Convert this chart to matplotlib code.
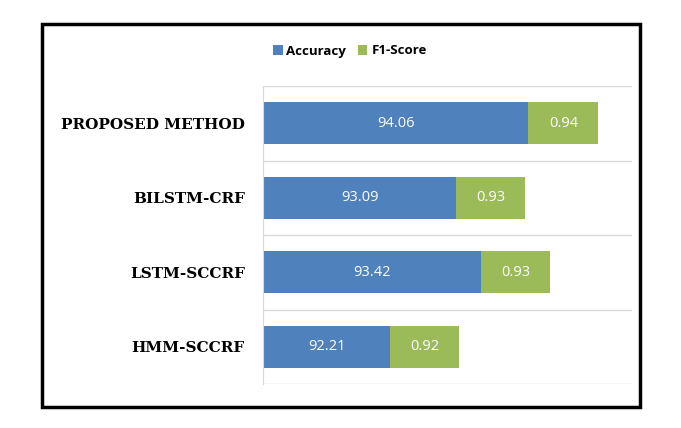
import matplotlib.pyplot as plt
from matplotlib.patches import Rectangle

methods = ["PROPOSED METHOD", "BILSTM-CRF", "LSTM-SCCRF", "HMM-SCCRF"]
accuracy = [94.06, 93.09, 93.42, 92.21]
f1_score = [0.94, 0.93, 0.93, 0.92]

blue = "#4F81BD"
green = "#9BBB59"

fig = plt.figure(figsize=(6.81, 4.28), dpi=100)
ax = fig.add_axes([263 / 681, 1 - 384 / 428, 369 / 681, 298 / 428])

base = 90.5
y = list(range(len(methods)))
acc_w = [a - base for a in accuracy]
b1 = ax.barh(y, acc_w, left=base, height=0.56, color=blue, label="Accuracy")
b2 = ax.barh(y, f1_score, left=accuracy, height=0.56, color=green, label="F1-Score")

for yi, a, f in zip(y, accuracy, f1_score):
    ax.text(base + (a - base) / 2, yi, f"{a:.2f}", ha="center", va="center",
            color="white", fontsize=10.5, family="Open Sans")
    ax.text(a + f / 2, yi, f"{f:.2f}", ha="center", va="center",
            color="white", fontsize=10.5, family="Open Sans")

ax.set_xlim(base, 95.45)
ax.set_ylim(len(methods) - 0.5, -0.5)
for g in [i - 0.5 for i in range(len(methods) + 1)]:
    ax.axhline(g, color="#D9D9D9", linewidth=1, zorder=0)

ax.set_yticks(y)
ax.set_yticklabels(methods, family="DejaVu Serif", fontweight="bold", fontsize=11)
ax.tick_params(axis="y", length=0, pad=13)
ax.set_xticks([])
for s in ["top", "right", "bottom"]:
    ax.spines[s].set_visible(False)
ax.spines["left"].set_color("#D9D9D9")

fig.legend(handles=[b1, b2], loc="center", bbox_to_anchor=(350 / 681, 1 - 51 / 428),
           ncol=2, frameon=False, handlelength=0.7, handleheight=0.7,
           columnspacing=0.9, handletextpad=0.3,
           prop={"family": "Open Sans", "weight": "bold", "size": 9.5})

fig.patches.append(Rectangle((42 / 681, 1 - 407 / 428), 598 / 681, 383 / 428,
                             transform=fig.transFigure, fill=False,
                             edgecolor="black", linewidth=2.5))

fig.savefig("out.png", dpi=100)
